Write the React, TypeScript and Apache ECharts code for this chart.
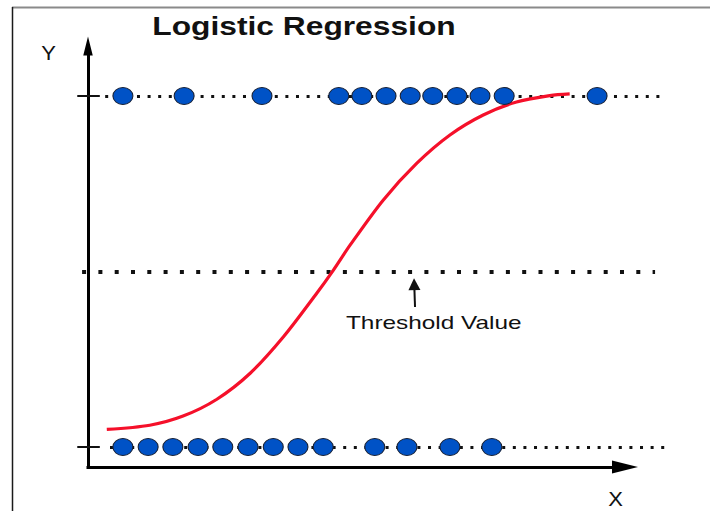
import React, { useEffect, useRef } from 'react';
import * as echarts from 'echarts';

// ---- data ----
const titleText = 'Logistic Regression';
const yAxisName = 'Y';
const xAxisName = 'X';
const thresholdLabel = 'Threshold Value';
const classValues = [0, 1];
const thresholdValue = 0.5;
// observations of class 1 (top row) and class 0 (bottom row), x positions
const upperX = [6.5, 17.9, 32.4, 46.7, 51.0, 55.5, 60.0, 64.2, 68.7, 73.0, 77.5, 94.8];
const lowerX = [6.5, 11.2, 15.8, 20.5, 25.1, 29.8, 34.5, 39.1, 43.8, 53.4, 59.4, 67.4, 75.2];
// sigmoid curve points
const curveX = [3.5, 11.5, 17.7, 24.0, 30.2, 36.4, 42.6, 45.7, 48.8, 55.0, 61.2, 67.4, 73.6, 79.8, 86.0, 89.7];
const curveY = [0.05, 0.062, 0.088, 0.136, 0.21, 0.314, 0.438, 0.504, 0.575, 0.704, 0.808, 0.889, 0.946, 0.983, 1.001, 1.006];
// extents of the guide lines
const rowLineStart = [4.1, 3.2];
const rowLineEnd = 107.6;
const thresholdStart = -1.1;
const thresholdEnd = 105.6;
const tickStart = -2;
const tickEnd = 2.2;
const arrowFrom = [60.9, 0.399];
const arrowTo = [60.75, 0.464];

const Y_MIN = -0.057;
const Y_MAX = 1.1425;

const tri = 'path://M5,0 L10,20 L0,20 Z';
const ellipse = 'path://M0,1 C0,0.448 0.448,0 1,0 C1.552,0 2,0.448 2,1 C2,1.552 1.552,2 1,2 C0.448,2 0,1.552 0,1 Z';

const FONT = '"Liberation Sans", Arial, sans-serif';

function buildOption() {
  const rowLines = classValues.map((v, i) => [
    { coord: [rowLineStart[i], v], lineStyle: { color: '#111', width: 3, type: [3, 7.6] } },
    { coord: [rowLineEnd, v], lineStyle: { color: '#111', width: 3, type: [3, 7.6] } },
  ]);
  const ticks = classValues.map((v) => [
    { coord: [tickStart, v], lineStyle: { color: '#111', width: 2, type: 'solid' } },
    { coord: [tickEnd, v], lineStyle: { color: '#111', width: 2, type: 'solid' } },
  ]);
  const threshold = [
    { coord: [thresholdStart, thresholdValue], lineStyle: { color: '#111', width: 4, type: [4, 12.3] } },
    { coord: [thresholdEnd, thresholdValue], lineStyle: { color: '#111', width: 4, type: [4, 12.3] } },
  ];

  const hiddenAxis = { show: false };

  return {
    animation: false,
    backgroundColor: '#ffffff',
    grid: [
      { left: 88, right: 85, top: 46, bottom: 44 },
      { left: 77.26, right: 31.3, top: 46, bottom: 44 },
    ],
    xAxis: [
      {
        type: 'value',
        gridIndex: 0,
        min: 0,
        max: 100,
        axisLine: {
          show: true,
          onZero: false,
          symbol: ['none', tri],
          symbolSize: [15, 26],
          lineStyle: { color: '#000', width: 3, cap: 'square' },
        },
        axisTick: { show: false },
        axisLabel: { show: false },
        splitLine: { show: false },
      },
      { type: 'value', gridIndex: 1, min: -2, max: 110, ...hiddenAxis },
    ],
    yAxis: [
      {
        type: 'value',
        gridIndex: 0,
        min: Y_MIN,
        max: Y_MAX,
        axisLine: {
          show: true,
          onZero: false,
          symbol: ['none', tri],
          symbolSize: [18, 19],
          lineStyle: { color: '#000', width: 3, cap: 'square' },
        },
        axisTick: { show: false },
        axisLabel: { show: false },
        splitLine: { show: false },
      },
      { type: 'value', gridIndex: 1, min: Y_MIN, max: Y_MAX, ...hiddenAxis },
    ],
    series: [
      {
        type: 'line',
        name: 'guides',
        xAxisIndex: 1,
        yAxisIndex: 1,
        data: [],
        z: 1,
        silent: true,
        markLine: {
          z: 1,
          silent: true,
          symbol: ['none', 'none'],
          label: { show: false },
          emphasis: { disabled: true },
          data: [...rowLines, ...ticks, threshold],
        },
      },
      {
        type: 'line',
        name: 'arrow',
        xAxisIndex: 1,
        yAxisIndex: 1,
        data: [],
        z: 1,
        silent: true,
        markLine: {
          z: 1,
          silent: true,
          symbol: ['none', tri],
          symbolSize: [12, 12],
          label: { show: false },
          emphasis: { disabled: true },
          lineStyle: { color: '#111', width: 2, type: 'solid' },
          data: [[{ coord: arrowFrom }, { coord: arrowTo }]],
        },
      },
      {
        type: 'line',
        name: 'sigmoid',
        xAxisIndex: 1,
        yAxisIndex: 1,
        data: curveX.map((x, i) => [x, curveY[i]]),
        smooth: 0.3,
        showSymbol: false,
        symbol: 'none',
        z: 2,
        lineStyle: { color: '#f5102a', width: 3.2 },
      },
      {
        type: 'scatter',
        name: 'class 1',
        xAxisIndex: 1,
        yAxisIndex: 1,
        data: upperX.map((x) => [x, classValues[1]]),
        symbol: ellipse,
        symbolSize: [20, 17],
        z: 4,
        itemStyle: { color: '#0052c6', borderColor: '#1b2233', borderWidth: 1, opacity: 1 },
      },
      {
        type: 'scatter',
        name: 'class 0',
        xAxisIndex: 1,
        yAxisIndex: 1,
        data: lowerX.map((x) => [x, classValues[0]]),
        symbol: ellipse,
        symbolSize: [20, 17],
        z: 4,
        itemStyle: { color: '#0052c6', borderColor: '#1b2233', borderWidth: 1, opacity: 1 },
      },
    ],
    graphic: [
      {
        type: 'line',
        silent: true,
        shape: { x1: 12, y1: 7.5, x2: 710, y2: 7.5 },
        style: { stroke: '#8a8a8a', lineWidth: 2 },
      },
      {
        type: 'line',
        silent: true,
        shape: { x1: 12.5, y1: 7, x2: 12.5, y2: 511 },
        style: { stroke: '#1a1a1a', lineWidth: 1.5 },
      },
      {
        type: 'text',
        silent: true,
        x: 304,
        y: 26,
        scaleX: 1.27,
        style: {
          text: titleText,
          fontFamily: FONT,
          fontSize: 25,
          fontWeight: 'bold',
          fill: '#111',
          align: 'center',
          verticalAlign: 'middle',
        },
      },
      {
        type: 'text',
        silent: true,
        x: 48.5,
        y: 52.5,
        scaleX: 1.1,
        style: {
          text: yAxisName,
          fontFamily: FONT,
          fontSize: 20,
          fill: '#111',
          align: 'center',
          verticalAlign: 'middle',
        },
      },
      {
        type: 'text',
        silent: true,
        x: 615.5,
        y: 499,
        scaleX: 1.1,
        style: {
          text: xAxisName,
          fontFamily: FONT,
          fontSize: 20,
          fill: '#111',
          align: 'center',
          verticalAlign: 'middle',
        },
      },
      {
        type: 'text',
        silent: true,
        x: 346,
        y: 322.5,
        scaleX: 1.31,
        style: {
          text: thresholdLabel,
          fontFamily: FONT,
          fontSize: 18.6,
          fill: '#111',
          align: 'left',
          verticalAlign: 'middle',
        },
      },
    ],
  };
}

export default function App() {
  const ref = useRef<HTMLDivElement>(null);
  useEffect(() => {
    if (!ref.current) return;
    const chart = echarts.init(ref.current, null, { renderer: 'svg' });
    chart.setOption(buildOption() as any);
    return () => chart.dispose();
  }, []);
  return (
    <div
      ref={ref}
      style={{ position: 'fixed', left: 0, top: 0, width: 710, height: 511, background: '#fff' }}
    />
  );
}
